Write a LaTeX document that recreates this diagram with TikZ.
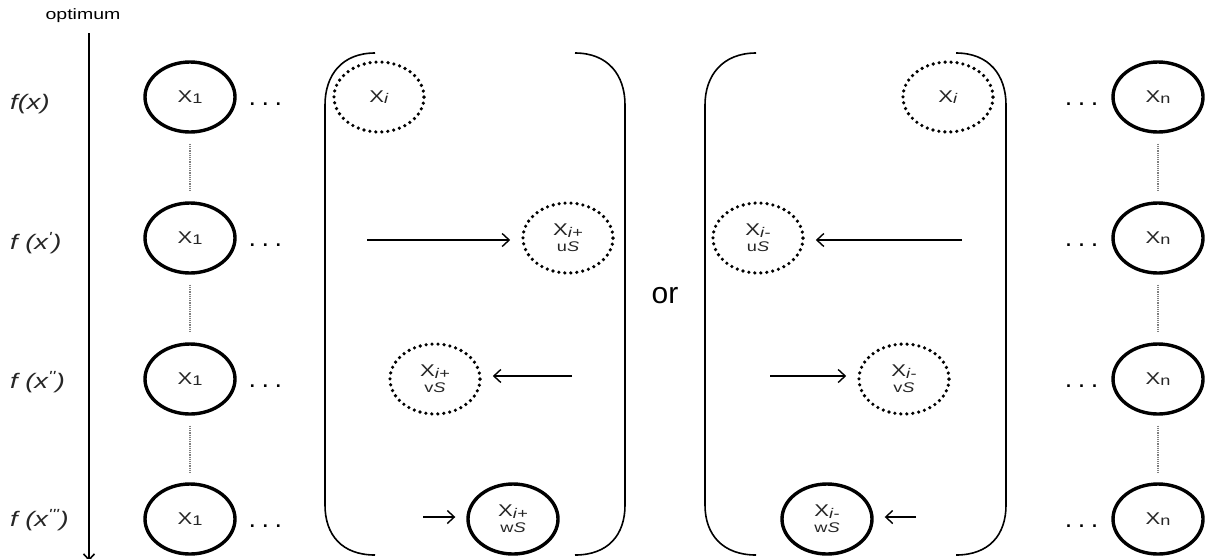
\documentclass[tikz,border=0pt]{standalone}
\usepackage{fontspec}
\setmainfont{Liberation Sans}
\newfontfamily\widesans{Liberation Sans}[FakeStretch=1.3]
\newfontfamily\midsans{Liberation Sans}[FakeStretch=1.3]
\usetikzlibrary{arrows.meta,positioning,shapes.geometric}
\newcommand{\xlab}[1]{X\raisebox{-1.5pt}{\fontsize{14}{14}\selectfont #1}}
\newcommand{\steplab}[2]{\xlab{\textit{i}#1}\\[-1pt]{\fontsize{14}{15}\selectfont #2\textit{S}}}
\newcommand{\rowdots}{.\hspace{8pt}.\hspace{8pt}.}
\tikzset{
  xnode/.style={ellipse,draw,line width=3.4pt,minimum width=90pt,minimum height=70pt,
    inner sep=0pt,align=center,text=black!85,font=\widesans\fontsize{17}{17}\selectfont},
  xdot/.style={xnode,line width=3.6pt,dash pattern=on 0pt off 6pt,line cap=round},
  rowlab/.style={anchor=west,inner sep=0pt,text=black!85,font=\widesans\itshape\fontsize{21}{22}\selectfont},
  dotsrow/.style={inner sep=0pt,font=\bfseries\fontsize{18}{18}\selectfont},
  link/.style={draw=gray,densely dotted,line width=1.2pt,shorten <=10pt,shorten >=10pt},
  move/.style={-{Straight Barb[length=7pt,width=13pt]},line width=1.4pt,shorten >=11pt},
  paren/.style={line width=1.6pt}
}
\begin{document}
\begin{tikzpicture}[x=1pt,y=-1pt]
  \useasboundingbox (0,0) rectangle (1206,558);
  % axis
  \node[font=\midsans\fontsize{15}{16}\selectfont] (opt) at (83,16) {optimum};
  \coordinate (axtop) at (89,33);
  \coordinate (axbot) at (89,561);
  \draw[line width=1.6pt,-{Straight Barb[length=6pt,width=11pt]}] (axtop) -- (axbot);
  \node[rowlab] (fx1) at (10,104) {f(x)};
  \node[rowlab] (fx2) at (10,243) {f (x\textsuperscript{'})};
  \node[rowlab] (fx3) at (10,382) {f (x\textsuperscript{''})};
  \node[rowlab] (fx4) at (10,520) {f (x\textsuperscript{'''})};
  % outer columns
  \foreach \r/\y in {1/97,2/238,3/379,4/519} {
    \node[xnode] (a\r) at (190,\y) {\xlab{1}};
    \node[xnode] (n\r) at (1158,\y) {\xlab{n}};
    \node[dotsrow,right=13pt of a\r,yshift=-7pt] (da\r) {\rowdots};
    \node[dotsrow,left=14pt of n\r,yshift=-7pt] (dn\r) {\rowdots};
  }
  \foreach \r/\s in {1/2,2/3,3/4} {
    \draw[link] (a\r) -- (a\s);
    \draw[link] (n\r) -- (n\s);
  }
  % left bracket: step up
  \draw[paren] (375,53) .. controls (342,53) and (325,75) .. (325,105) -- (325,505)
    .. controls (325,535) and (342,555) .. (375,555);
  \draw[paren] (575,53) .. controls (608,53) and (625,75) .. (625,105) -- (625,505)
    .. controls (625,535) and (608,555) .. (575,555);
  \node[xdot] (pi) at (379,97) {\xlab{\textit{i}}};
  \node[xdot] (pu) at (568,238) {\steplab{+}{u}};
  \node[xdot] (pv) at (435,379) {\steplab{+}{v}};
  \node[xnode] (pw) at (513,519) {\steplab{+}{w}};
  \coordinate (tpu) at (367,240);
  \coordinate (tpv) at (572,376);
  \coordinate (tpw) at (423,517);
  \draw[move] (tpu) -- (pu.west |- tpu);
  \draw[move] (tpv) -- (pv.east |- tpv);
  \draw[move] (tpw) -- (pw.west |- tpw);
  \node[font=\fontsize{30}{30}\selectfont] (or) at (665,296) {or};
  % right bracket: step down
  \draw[paren] (756,53) .. controls (723,53) and (705,75) .. (705,105) -- (705,505)
    .. controls (705,535) and (723,555) .. (756,555);
  \draw[paren] (956,53) .. controls (989,53) and (1006,75) .. (1006,105) -- (1006,505)
    .. controls (1006,535) and (989,555) .. (956,555);
  \node[xdot] (mi) at (948,97) {\xlab{\textit{i}}};
  \node[xdot] (mu) at (758,238) {\steplab{-}{u}};
  \node[xdot] (mv) at (904,379) {\steplab{-}{v}};
  \node[xnode] (mw) at (827,519) {\steplab{-}{w}};
  \coordinate (tmu) at (962,240);
  \coordinate (tmv) at (770,376);
  \coordinate (tmw) at (916,517);
  \draw[move] (tmu) -- (mu.east |- tmu);
  \draw[move] (tmv) -- (mv.west |- tmv);
  \draw[move] (tmw) -- (mw.east |- tmw);
\end{tikzpicture}
\end{document}
